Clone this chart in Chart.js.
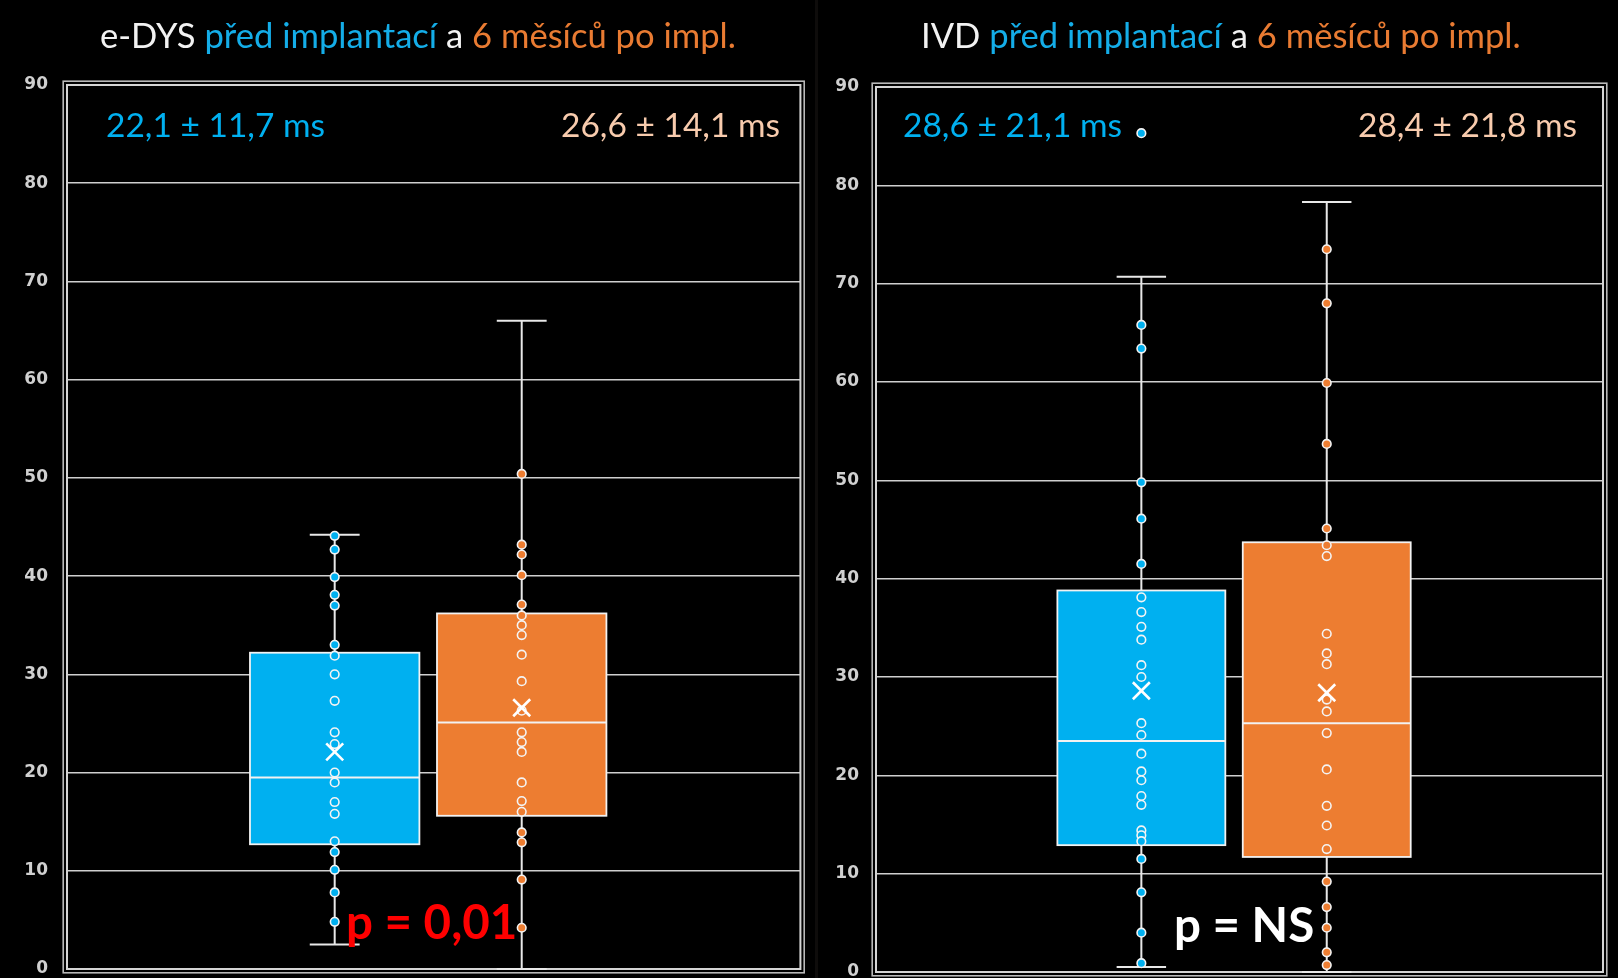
<!DOCTYPE html>
<html lang="cs">
<head>
<meta charset="utf-8">
<title>e-DYS a IVD před implantací a 6 měsíců po implantaci</title>
<script src="https://cdn.jsdelivr.net/npm/chart.js@4.4.1/dist/chart.umd.min.js"></script>
<style>
  html, body { margin: 0; padding: 0; background: #000; width: 1618px; height: 978px; overflow: hidden; }
  canvas { position: absolute; top: 0; }
  #sep { position: absolute; left: 815px; top: 0; width: 3px; height: 978px; background: #0e0c0b; }
  .txt { position: absolute; white-space: nowrap; font-family: Lato, "Open Sans", sans-serif; }
  .title { font-size: 34.6px; line-height: 34px; color: #f2f2f2; }
  .stat { font-size: 33.5px; line-height: 34px; }
  .pval { font-size: 47.5px; line-height: 48px; font-weight: bold; }
</style>
</head>
<body>
<div id="sep"></div>
<canvas id="chartEdys" width="815" height="1000" style="left:0px;width:815px;height:1000px"></canvas>
<canvas id="chartIvd" width="803" height="1000" style="left:815px;width:803px;height:1000px"></canvas>

<div id="titleEdys" class="txt title" style="left:100px;top:18px"></div>
<div id="titleIvd" class="txt title" style="left:921px;top:18px"></div>

<div id="statEdysBefore" class="txt stat" style="left:106px;top:107px"></div>
<div id="statEdysAfter" class="txt stat" style="right:838px;top:107px;text-align:right"></div>
<div id="statIvdBefore" class="txt stat" style="left:903px;top:107px"></div>
<div id="statIvdAfter" class="txt stat" style="right:41px;top:107px;text-align:right"></div>

<div class="txt pval" style="left:346px;top:897px;color:#ff0000">p = 0,01</div>
<div class="txt pval" style="left:1174px;top:900px;color:#ffffff">p = NS</div>

<script>
// ---- data ----------------------------------------------------------------
const yTickValues = [0, 10, 20, 30, 40, 50, 60, 70, 80, 90];
const groupNames = ['před implantací', '6 měsíců po impl.'];

// e-DYS [ms]
const eDysBeforeValues = [44.1, 42.7, 39.9, 38.1, 37.0, 33.0, 31.9, 30.0, 27.3, 24.1,
                          22.9, 20.0, 19.0, 17.0, 15.8, 13.0, 11.9, 10.1, 7.8, 4.8];
const eDysAfterValues  = [50.4, 43.2, 42.2, 40.1, 37.1, 36.0, 35.0, 34.0, 32.0, 29.3,
                          26.3, 24.1, 23.1, 22.1, 19.0, 17.1, 16.0, 13.9, 12.9, 9.1, 4.2];
// min, Q1, median, Q3, max
const eDysBeforeBox = [2.5, 12.7, 19.5, 32.2, 44.2];
const eDysAfterBox  = [0.0, 15.6, 25.1, 36.2, 66.0];
const eDysMean = [22.1, 26.6];
const eDysSd   = [11.7, 14.1];

// IVD [ms]
const ivdBeforeValues = [65.8, 63.4, 49.8, 46.1, 41.5, 38.1, 36.6, 35.1, 33.8, 31.2,
                         30.0, 25.3, 24.1, 22.2, 20.4, 19.5, 17.9, 17.0, 14.4, 13.9,
                         13.3, 11.5, 8.1, 4.0, 0.9];
const ivdBeforeOutliers = [85.3];
const ivdAfterValues  = [73.5, 68.0, 59.9, 53.7, 45.1, 43.4, 42.3, 34.4, 32.4, 31.3,
                         27.7, 26.5, 24.3, 20.6, 16.9, 14.9, 12.5, 9.2, 6.6, 4.5, 2.0, 0.7];
const ivdBeforeBox = [0.5, 12.9, 23.5, 38.8, 70.7];
const ivdAfterBox  = [0.0, 11.7, 25.3, 43.7, 78.3];
const ivdMean = [28.6, 28.4];
const ivdSd   = [21.1, 21.8];

// ---- look & layout -------------------------------------------------------
const SLOT_CENTER = [0.365, 0.62];   // box centres on a 0..1 horizontal scale
const BOX_WIDTH = 0.231;
const CAP_WIDTH = 0.068;
const FILL = ['#00B0F0', '#ED7D31'];
const STAT_COLOR = ['#00B0F0', '#F8CBAD'];
const TITLE_COLOR = ['#14ADE8', '#E97B32'];
const LINE = '#e8e8e8';

const fmt = v => v.toFixed(1).replace('.', ',');

function setTitle(id, lead) {
  const el = document.getElementById(id);
  el.innerHTML = '';
  const parts = [[lead + ' ', '#f2f2f2'], [groupNames[0], TITLE_COLOR[0]], [' a ', '#f2f2f2'], [groupNames[1], TITLE_COLOR[1]]];
  parts.forEach(([t, c]) => {
    const s = document.createElement('span');
    s.textContent = t; s.style.color = c; el.appendChild(s);
  });
}
function setStat(id, mean, sd, color) {
  const el = document.getElementById(id);
  el.textContent = fmt(mean) + ' ± ' + fmt(sd) + ' ms';
  el.style.color = color;
}
setTitle('titleEdys', 'e-DYS');
setTitle('titleIvd', 'IVD');
setStat('statEdysBefore', eDysMean[0], eDysSd[0], STAT_COLOR[0]);
setStat('statEdysAfter', eDysMean[1], eDysSd[1], STAT_COLOR[1]);
setStat('statIvdBefore', ivdMean[0], ivdSd[0], STAT_COLOR[0]);
setStat('statIvdAfter', ivdMean[1], ivdSd[1], STAT_COLOR[1]);

// double frame round the plot area
const framePlugin = {
  id: 'frame',
  beforeDatasetsDraw(chart) {
    const { ctx, chartArea: a } = chart;
    ctx.save();
    ctx.strokeStyle = '#d4d4d4';
    ctx.lineWidth = 2;
    ctx.strokeRect(a.left, a.top, a.right - a.left, a.bottom - a.top);
    ctx.strokeStyle = '#b8b8b8';
    ctx.lineWidth = 1.6;
    const o = 3.8;
    ctx.strokeRect(a.left - o, a.top - o, a.right - a.left + 2 * o, a.bottom - a.top + 2 * o);
    ctx.restore();
  }
};

// box, whiskers and median for each group, placed through the chart scales
function boxPlugin(boxes) {
  return {
    id: 'boxes',
    beforeDatasetsDraw(chart) {
      const { ctx } = chart;
      const xs = chart.scales.x, ys = chart.scales.y;
      ctx.save();
      boxes.forEach((b, i) => {
        const [mn, q1, med, q3, mx] = b;
        const c = SLOT_CENTER[i];
        const xc = xs.getPixelForValue(c);
        const xl = xs.getPixelForValue(c - BOX_WIDTH / 2);
        const xr = xs.getPixelForValue(c + BOX_WIDTH / 2);
        const cl = xs.getPixelForValue(c - CAP_WIDTH / 2);
        const cr = xs.getPixelForValue(c + CAP_WIDTH / 2);
        const yMin = ys.getPixelForValue(mn), yQ1 = ys.getPixelForValue(q1);
        const yMed = ys.getPixelForValue(med), yQ3 = ys.getPixelForValue(q3);
        const yMax = ys.getPixelForValue(mx);
        ctx.strokeStyle = LINE;
        ctx.lineWidth = 2;
        ctx.beginPath();
        ctx.moveTo(xc, yMax); ctx.lineTo(xc, yQ3);
        ctx.moveTo(xc, yQ1); ctx.lineTo(xc, yMin);
        ctx.moveTo(cl, yMax); ctx.lineTo(cr, yMax);
        ctx.moveTo(cl, yMin); ctx.lineTo(cr, yMin);
        ctx.stroke();
        ctx.fillStyle = FILL[i];
        ctx.fillRect(xl, yQ3, xr - xl, yQ1 - yQ3);
        ctx.strokeStyle = '#f2f2f2';
        ctx.lineWidth = 1.8;
        ctx.strokeRect(xl, yQ3, xr - xl, yQ1 - yQ3);
        ctx.beginPath();
        ctx.moveTo(xl, yMed); ctx.lineTo(xr, yMed);
        ctx.lineWidth = 2;
        ctx.stroke();
      });
      ctx.restore();
    }
  };
}

function pointSet(values, slot) {
  return {
    data: values.map(v => ({ x: SLOT_CENTER[slot], y: v })),
    backgroundColor: FILL[slot],
    borderColor: '#f4f4f4',
    borderWidth: 1.6,
    pointRadius: 4.3,
    clip: false
  };
}

function makeChart(canvasId, groups, boxes, means, pad, axisWidth, tickPad) {
  const datasets = [
    {
      data: means.map((m, i) => ({ x: SLOT_CENTER[i], y: m })),
      pointStyle: 'crossRot',
      pointRadius: 12,
      borderColor: '#ffffff',
      borderWidth: 2.6,
      backgroundColor: 'transparent',
      clip: false
    },
    ...groups.map(g => pointSet(g.values, g.slot))
  ];
  return new Chart(document.getElementById(canvasId), {
    type: 'scatter',
    data: { datasets },
    options: {
      responsive: false,
      animation: false,
      events: [],
      layout: { padding: pad },
      plugins: { legend: { display: false }, tooltip: { enabled: false }, title: { display: false } },
      scales: {
        x: { type: 'linear', min: 0, max: 1, display: false },
        y: {
          type: 'linear', min: 0, max: 90,
          afterBuildTicks: s => { s.ticks = yTickValues.map(v => ({ value: v })); },
          afterFit: s => { s.width = axisWidth; },
          border: { display: false },
          grid: { color: '#cfcfcf', lineWidth: 1.5, drawTicks: false },
          ticks: {
            color: '#d0d0d0',
            padding: tickPad,
            font: { family: 'DejaVu Sans', size: 17, weight: 'bold', lineHeight: 1 }
          }
        }
      }
    },
    plugins: [framePlugin, boxPlugin(boxes)]
  });
}

makeChart('chartEdys',
  [{ values: eDysBeforeValues, slot: 0 }, { values: eDysAfterValues, slot: 1 }],
  [eDysBeforeBox, eDysAfterBox], eDysMean,
  { left: 0, top: 85, right: 14.5, bottom: 31 }, 67, 19);

makeChart('chartIvd',
  [{ values: ivdBeforeValues, slot: 0 }, { values: ivdBeforeOutliers, slot: 0 }, { values: ivdAfterValues, slot: 1 }],
  [ivdBeforeBox, ivdAfterBox], ivdMean,
  { left: 0, top: 87, right: 15, bottom: 28 }, 61, 17);
</script>
</body>
</html>
